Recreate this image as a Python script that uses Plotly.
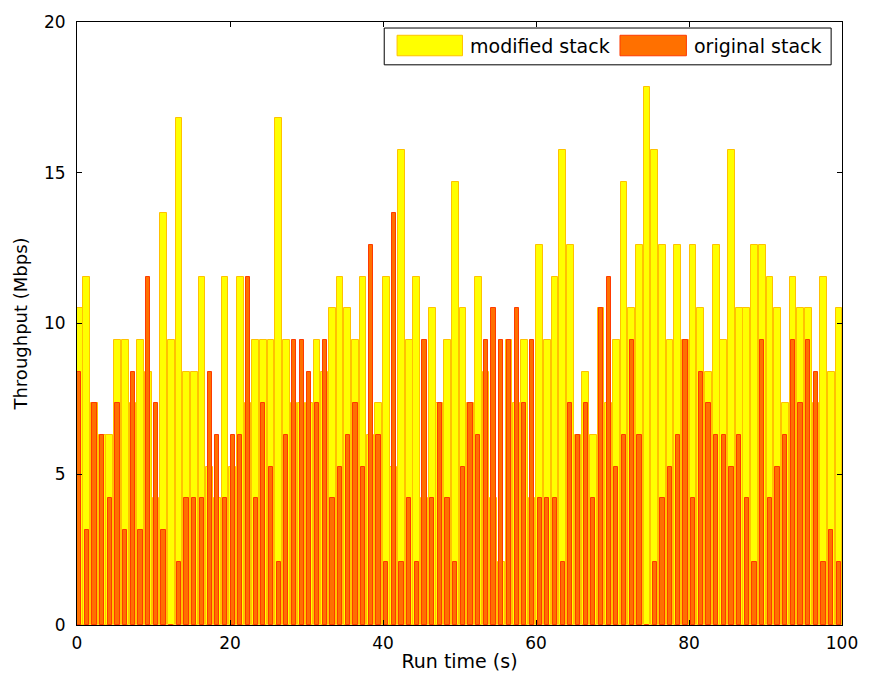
import numpy as np
import plotly.graph_objects as go

# sample times (s) of the 100 one-second measurement intervals
run_time = np.linspace(0.28, 99.6, 100)

modified_stack = [
    10.5, 11.55, 7.35, 6.3, 6.3, 9.45, 9.45, 7.35, 9.45, 8.4,
    4.2, 13.65, 9.45, 16.8, 8.4, 8.4, 11.55, 5.25, 4.2, 11.55,
    5.25, 11.55, 7.35, 9.45, 9.45, 9.45, 16.8, 9.45, 7.35, 7.35,
    7.35, 9.45, 8.4, 10.5, 11.55, 10.5, 9.45, 11.55, 6.3, 7.35,
    11.55, 5.25, 15.75, 9.45, 11.55, 4.2, 10.5, 7.35, 9.45, 14.7,
    10.5, 7.35, 11.55, 8.4, 4.2, 2.1, 9.45, 7.35, 9.45, 4.2,
    12.6, 9.45, 11.55, 15.75, 12.6, 6.3, 8.4, 6.3, 10.5, 7.35,
    9.45, 14.7, 10.5, 12.6, 17.85, 15.75, 12.6, 9.45, 12.6, 9.45,
    12.6, 10.5, 8.4, 12.6, 9.45, 15.75, 10.5, 10.5, 12.6, 12.6,
    11.55, 10.5, 7.35, 11.55, 10.5, 10.5, 7.35, 11.55, 8.4, 10.5,
]

original_stack = [
    8.4, 3.15, 7.35, 6.3, 4.2, 7.35, 3.15, 8.4, 3.15, 11.55,
    7.35, 3.15, 0, 2.1, 4.2, 4.2, 4.2, 8.4, 6.3, 4.2,
    6.3, 6.3, 11.55, 4.2, 7.35, 5.25, 2.1, 6.3, 9.45, 9.45,
    8.4, 7.35, 9.45, 4.2, 5.25, 6.3, 7.35, 5.25, 12.6, 6.3,
    2.1, 13.65, 2.1, 4.2, 2.1, 9.45, 4.2, 7.35, 4.2, 2.1,
    5.25, 7.35, 6.3, 9.45, 10.5, 9.45, 9.45, 10.5, 7.35, 9.45,
    4.2, 4.2, 4.2, 2.1, 7.35, 6.3, 7.35, 4.2, 10.5, 11.55,
    5.25, 6.3, 9.45, 6.3, 0, 2.1, 4.2, 5.25, 6.3, 9.45,
    4.2, 8.4, 7.35, 6.3, 6.3, 5.25, 6.3, 4.2, 2.1, 9.45,
    4.2, 5.25, 6.3, 9.45, 7.35, 9.45, 8.4, 2.1, 3.15, 2.1,
]

series_names = ["modified stack", "original stack"]
x_ticks = [0, 20, 40, 60, 80, 100]
y_ticks = [0, 5, 10, 15, 20]

YELLOW = "#FFFF00"
YELLOW_EDGE = "#FFC200"
ORANGE = "#FF7000"
ORANGE_EDGE = "#FF3A00"
FONT = "DejaVu Sans, Liberation Sans, Arial, sans-serif"
FS_TICK = 17
FS_TEXT = 19

fig = go.Figure()
fig.add_trace(go.Bar(
    x=run_time, y=modified_stack, name=series_names[0], width=0.88,
    marker=dict(color=YELLOW, line=dict(color=YELLOW_EDGE, width=1)),
    showlegend=False,
))
fig.add_trace(go.Bar(
    x=run_time, y=original_stack, name=series_names[1], width=0.55,
    marker=dict(color=ORANGE, line=dict(color=ORANGE_EDGE, width=1)),
    showlegend=False,
))

axis_common = dict(
    showline=True, linecolor="black", linewidth=1, mirror="ticks",
    ticks="inside", ticklen=5, tickcolor="black", showgrid=False,
    zeroline=False, tickfont=dict(family=FONT, size=FS_TICK, color="black"),
)
fig.update_xaxes(range=[0, 100], tickvals=x_ticks, ticktext=[str(v) for v in x_ticks],
                 ticklabelstandoff=3,
                 title=dict(text="Run time (s)", font=dict(family=FONT, size=FS_TEXT, color="black"), standoff=2),
                 **axis_common)
fig.update_yaxes(range=[0, 20], tickvals=y_ticks, ticktext=[str(v) for v in y_ticks],
                 ticklabelstandoff=7,
                 title=dict(text="Throughput (Mbps)", font=dict(family=FONT, size=18, color="black"), standoff=11),
                 **axis_common)

# MATLAB-style legend box (custom, with long swatches)
shapes = [
    dict(type="rect", xref="paper", yref="paper", x0=0.4016, x1=0.9858, y0=0.929, y1=0.990,
         line=dict(color="black", width=1), fillcolor="white", layer="above"),
    dict(type="rect", xref="paper", yref="paper", x0=0.4184, x1=0.5039, y0=0.944, y1=0.978,
         line=dict(color=YELLOW_EDGE, width=1), fillcolor=YELLOW, layer="above"),
    dict(type="rect", xref="paper", yref="paper", x0=0.7098, x1=0.7966, y0=0.944, y1=0.978,
         line=dict(color=ORANGE_EDGE, width=1), fillcolor=ORANGE, layer="above"),
]
annotations = [
    dict(xref="paper", yref="paper", x=0.5115, y=0.9605, text=series_names[0], showarrow=False,
         xanchor="left", yanchor="middle", font=dict(family=FONT, size=FS_TEXT, color="black")),
    dict(xref="paper", yref="paper", x=0.8045, y=0.9605, text=series_names[1], showarrow=False,
         xanchor="left", yanchor="middle", font=dict(family=FONT, size=FS_TEXT, color="black")),
]

fig.update_layout(
    width=870, height=685,
    margin=dict(l=77, r=21, t=19, b=60),
    barmode="overlay", bargap=0,
    plot_bgcolor="white", paper_bgcolor="white",
    shapes=shapes, annotations=annotations,
)

fig.write_html("out.html")
